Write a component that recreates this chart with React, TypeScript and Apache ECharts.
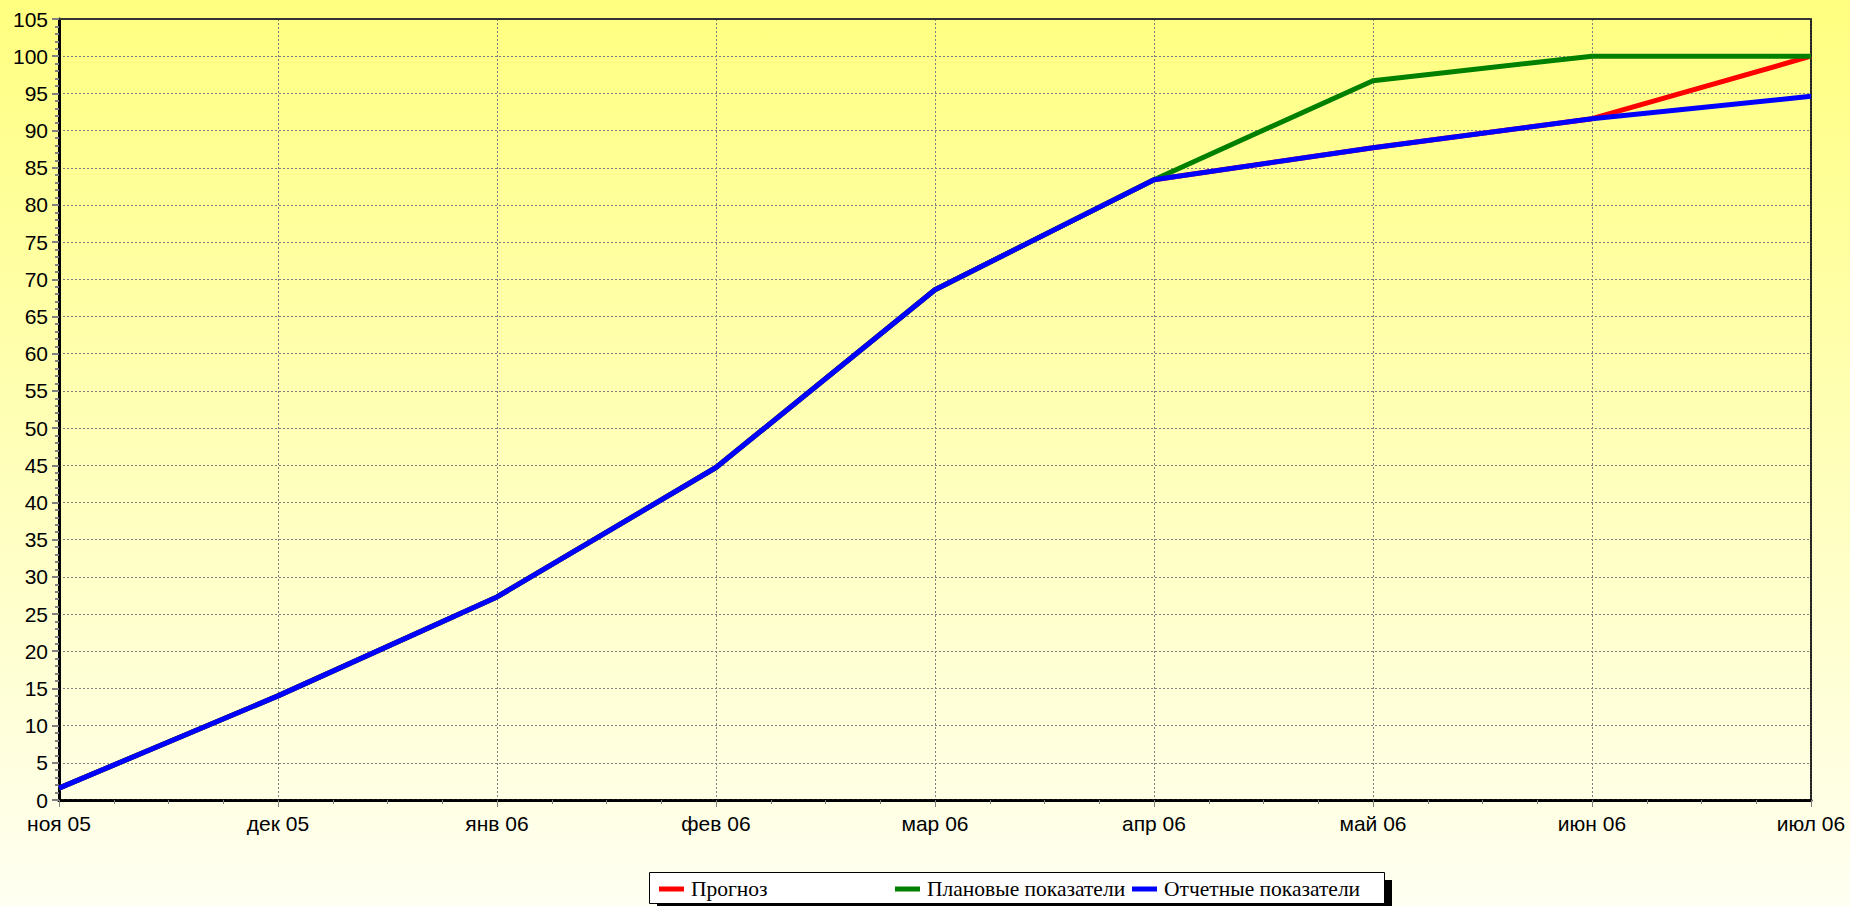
import React, { useEffect, useRef } from "react";
import * as echarts from "echarts";

const months = ["ноя 05", "дек 05", "янв 06", "фев 06", "мар 06", "апр 06", "май 06", "июн 06", "июл 06"];
const forecast = [1.6, 14.0, 27.3, 44.7, 68.6, 83.4, 87.7, 91.6, 100];
const planned = [1.6, 14.0, 27.3, 44.7, 68.6, 83.4, 96.7, 100, 100];
const actual = [1.6, 14.0, 27.3, 44.7, 68.6, 83.4, 87.7, 91.6, 94.6];
const seriesNames = ["Прогноз", "Плановые показатели", "Отчетные показатели"];
const seriesColors = ["#FF0000", "#008000", "#0000FF"];
const yMin = 0;
const yMax = 105;
const yStep = 5;

const sans = "'Liberation Sans', Arial, sans-serif";
const serif = "'Liberation Serif', 'Times New Roman', serif";

export default function App() {
  const ref = useRef<HTMLDivElement>(null);
  useEffect(() => {
    if (!ref.current) return;
    const chart = echarts.init(ref.current, undefined, { renderer: "svg" });
    const toPairs = (arr: number[]) => arr.map((v, i) => [i, v]);
    const grid = { left: 59, top: 19, right: 39, bottom: 106, containLabel: false };
    const dots = [2, 2];
    const legendLefts = [659, 895, 1132];
    chart.setOption({
      animation: false,
      backgroundColor: "transparent",
      grid,
      xAxis: [
        {
          type: "value",
          min: 0,
          max: months.length - 1,
          interval: 1,
          position: "bottom",
          axisLine: { show: true, onZero: false, lineStyle: { color: "#808080", width: 3 } },
          axisTick: { show: true, length: 7, inside: false, lineStyle: { color: "#808080", width: 1 } },
          minorTick: { show: true, splitNumber: 4, length: 4, lineStyle: { color: "#808080", width: 1 } },
          axisLabel: {
            margin: 13,
            color: "#000",
            fontFamily: sans,
            fontSize: 21,
            formatter: (v: number) => months[Math.round(v)] ?? "",
          },
          splitLine: { show: true, lineStyle: { color: "#808080", width: 1, type: dots } },
        },
        {
          type: "value",
          min: 0,
          max: months.length - 1,
          position: "bottom",
          axisLine: { show: true, onZero: false, lineStyle: { color: "#000", width: 3, type: [3, 2] } },
          axisTick: { show: false },
          axisLabel: { show: false },
          splitLine: { show: false },
        },
        {
          type: "value",
          min: 0,
          max: months.length - 1,
          position: "top",
          axisLine: { show: true, onZero: false, lineStyle: { color: "#333", width: 2, type: [2, 1] } },
          axisTick: { show: false },
          axisLabel: { show: false },
          splitLine: { show: false },
        },
      ],
      yAxis: [
        {
          type: "value",
          min: yMin,
          max: yMax,
          interval: yStep,
          position: "left",
          axisLine: { show: true, onZero: false, lineStyle: { color: "#000", width: 3 } },
          axisTick: { show: true, length: 7, inside: false, lineStyle: { color: "#808080", width: 2 } },
          minorTick: { show: true, splitNumber: 5, length: 4, lineStyle: { color: "#808080", width: 2 } },
          axisLabel: { margin: 11, color: "#000", fontFamily: sans, fontSize: 21 },
          splitLine: { show: true, lineStyle: { color: "#808080", width: 1, type: dots } },
        },
        {
          type: "value",
          min: yMin,
          max: yMax,
          position: "right",
          axisLine: { show: true, onZero: false, lineStyle: { color: "#222", width: 2, type: [2, 1] } },
          axisTick: { show: false },
          axisLabel: { show: false },
          splitLine: { show: false },
        },
      ],
      legend: seriesNames.map((name, i) => ({
        data: [name],
        left: legendLefts[i],
        top: 878,
        padding: 0,
        itemWidth: 25,
        itemHeight: 5,
        icon: "rect",
        selectedMode: false,
        z: 10,
        textStyle: { fontFamily: serif, fontSize: 21.5, color: "#000", padding: [0, 0, 0, 2] },
      })),
      graphic: [
        { type: "rect", z: 1, silent: true, shape: { x: 657, y: 880, width: 735, height: 40 }, style: { fill: "#000" } },
        { type: "rect", z: 2, silent: true, shape: { x: 649.5, y: 872.5, width: 735, height: 31 }, style: { fill: "#fff", stroke: "#000", lineWidth: 1 } },
      ],
      series: [
        { name: seriesNames[0], data: toPairs(forecast) },
        { name: seriesNames[1], data: toPairs(planned) },
        { name: seriesNames[2], data: toPairs(actual) },
      ].map((s, i) => ({
        ...s,
        type: "line",
        xAxisIndex: 0,
        yAxisIndex: 0,
        symbol: "none",
        silent: true,
        color: seriesColors[i],
        lineStyle: { color: seriesColors[i], width: 5 },
        z: 3 + i,
      })),
    });
    return () => chart.dispose();
  }, []);
  return (
    <div
      ref={ref}
      style={{
        position: "fixed",
        left: 0,
        top: 0,
        width: 1850,
        height: 906,
        background: "linear-gradient(to bottom, #FFFF80 0%, #FFFFF2 100%)",
      }}
    />
  );
}
